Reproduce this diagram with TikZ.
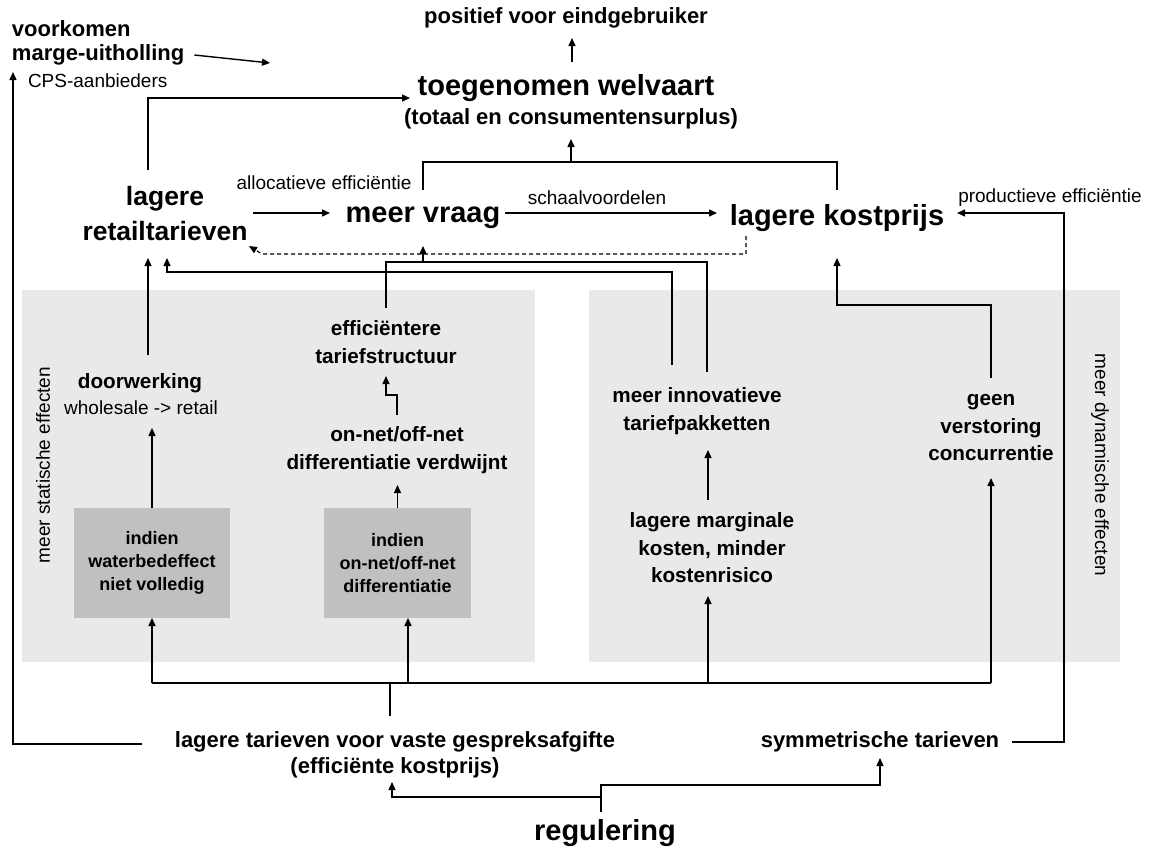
\documentclass[tikz,border=0pt]{standalone}
\usepackage{fontspec}
\setmainfont{Liberation Sans}
\usetikzlibrary{arrows.meta}
\definecolor{panelc}{RGB}{233,233,233}
\definecolor{boxc}{RGB}{192,192,192}
\begin{document}
\begin{tikzpicture}[x=1pt,y=-1pt,line width=1.4pt,
  every node/.style={inner sep=0pt,outer sep=0pt},
  big/.style={font=\bfseries\fontsize{29}{33}\selectfont},
  bigr/.style={font=\bfseries\fontsize{26.5}{35}\selectfont,align=center},
  med/.style={font=\bfseries\fontsize{22}{24.5}\selectfont},
  nd/.style={font=\bfseries\fontsize{20.7}{27.5}\selectfont,align=center},
  sm/.style={font=\fontsize{19}{23}\selectfont},
  graybox/.style={fill=boxc,align=center,font=\bfseries\fontsize{18}{23}\selectfont},
  arr/.style={-{Triangle[length=8pt,width=7pt]}},
  dashline/.style={line width=1.2pt,dash pattern=on 4pt off 3pt,-{Triangle[length=8pt,width=7pt]}}]
\useasboundingbox (0,0) rectangle (1149,855);
% panels
\fill[panelc] (22,290) rectangle (535,662);
\fill[panelc] (589,290) rectangle (1120,662);
% top
\node[med,anchor=west,align=left] (voork) at (12,43) {voorkomen\\marge-uitholling};
\node[sm,anchor=west] (cps) at (28,81) {CPS-aanbieders};
\coordinate (vkend) at (270,63);
\node[med,minimum height=40pt] (pos) at (566,18) {positief voor eindgebruiker};
\node[big,minimum height=52pt,minimum width=312pt] (welv) at (566,88) {toegenomen welvaart};
\node[med,minimum height=40pt] (welvs) at (571,119) {(totaal en consumentensurplus)};
% middle row
\node[bigr,minimum height=88pt,minimum width=176pt] (retail) at (165,214) {lagere\\retailtarieven};
\node[big,minimum height=56pt,minimum width=186pt] (vraag) at (423,218) {meer vraag};
\node[big,minimum height=56pt,minimum width=240pt] (kost) at (837,218) {lagere kostprijs};
\node[sm] (alloc) at (324,183) {allocatieve efficiëntie};
\node[sm] (schaal) at (597,198) {schaalvoordelen};
\node[sm] (prod) at (1050,198) {productieve efficiëntie};
% left panel
\node[sm,rotate=90] (stat) at (43,465) {meer statische effecten};
\node[nd,minimum height=56pt] (doorw) at (140,383) {doorwerking};
\node[sm,minimum height=40pt] (whole) at (141,408) {wholesale -> retail};
\node[graybox,minimum width=156pt,minimum height=110pt] (box1) at (152,563) {indien\\waterbedeffect\\niet volledig};
\node[graybox,minimum width=147pt,minimum height=110pt] (box2) at (397.5,563) {indien\\on-net/off-net\\differentiatie};
\node[nd,minimum height=68pt] (effic) at (386,342) {efficiëntere\\tariefstructuur};
\node[nd,minimum height=70pt] (onnet) at (397,450) {on-net/off-net\\differentiatie verdwijnt};
% right panel
\node[sm,rotate=-90] (dyn) at (1100,465) {meer dynamische effecten};
\node[nd,minimum height=78pt] (innov) at (697,411) {meer innovatieve\\tariefpakketten};
\node[nd,minimum height=96pt] (marg) at (712,548) {lagere marginale\\kosten, minder\\kostenrisico};
\node[nd,minimum height=100pt] (geen) at (991,428) {geen\\verstoring\\concurrentie};
% bottom
\node[med,align=center,font=\bfseries\fontsize{22}{26}\selectfont,minimum height=78pt,minimum width=506pt] (ltv) at (395,755) {lagere tarieven voor vaste gespreksafgifte\\(efficiënte kostprijs)};
\node[med,minimum height=32pt,minimum width=264pt] (sym) at (880,742) {symmetrische tarieven};
\node[big,minimum height=42pt] (reg) at (605,833) {regulering};
% connectors top
\draw[arr] ([shift={(10,12)}]voork.east) -- (vkend);
\coordinate (wn) at ([xshift=6pt]welv.north);
\draw[arr] (wn) -- (wn |- pos.south);
\draw (vraag.north) -- ++(0,-28) coordinate (jy) -| (kost.north);
\draw[arr] (welvs.south |- jy) -- (welvs.south);
\draw[arr] ([xshift=-17pt]retail.north) |- ([yshift=-10pt]welv.west);
\draw[arr] ([yshift=1pt]retail.east) -- ([yshift=5pt]vraag.west);
\draw[arr] ([shift={(-11,-5)}]vraag.east) -- ([yshift=5pt]kost.west);
\draw[dashline] ([shift={(-91,-10)}]kost.south) |- ([shift={(9,-4)}]retail.south east) -- ([shift={(-4,-12)}]retail.south east);
% connectors left panel
\draw[arr] ([xshift=8pt]doorw.north) -- ([xshift=-17pt]retail.south);
\draw[arr] (box1.north) -- (box1.north |- whole.south);
\draw[arr] (box2.north) -- (box2.north |- onnet.south);
\draw[arr] (onnet.north) -- ++(0,-20) -| (effic.south);
\draw (effic.north) -- ++(0,-46) coordinate (jv) -| ([xshift=10pt]innov.north);
\draw[arr] (jv -| vraag.south) -- (vraag.south);
\draw[arr] ([shift={(-25,-7)}]innov.north) -- ++(0,-93) -| ([xshift=2pt]retail.south);
% connectors right panel
\draw[arr] ([xshift=-4pt]marg.north) -- ([xshift=11pt]innov.south);
\draw[arr] (geen.north) -- ++(0,-73) -| ([yshift=-12pt]kost.south);
% bottom connectors
\draw ([xshift=-5pt]ltv.north) -- ++(0,-33) coordinate (bus);
\draw (box1.south |- bus) -- (geen.south |- bus);
\draw[arr] (box1.south |- bus) -- (box1.south);
\coordinate (b2s) at ([xshift=10.5pt]box2.south);
\draw[arr] (b2s |- bus) -- (b2s);
\coordinate (mgs) at ([xshift=-4pt]marg.south);
\draw[arr] (mgs |- bus) -- (mgs);
\draw[arr] (geen.south |- bus) -- (geen.south);
\draw[arr] ([yshift=11pt]ltv.west) -| ([shift={(-15,-9)}]cps.west);
\draw[arr] (sym.east) -- ++(52,0) |- ([yshift=5pt]kost.east);
\draw[arr] ([xshift=-4pt]reg.north) -- ++(0,-27) -| (sym.south);
\draw[arr] ([xshift=-4pt]reg.north) ++(0,-15) -| ([shift={(-3,-12)}]ltv.south);
\end{tikzpicture}
\end{document}
